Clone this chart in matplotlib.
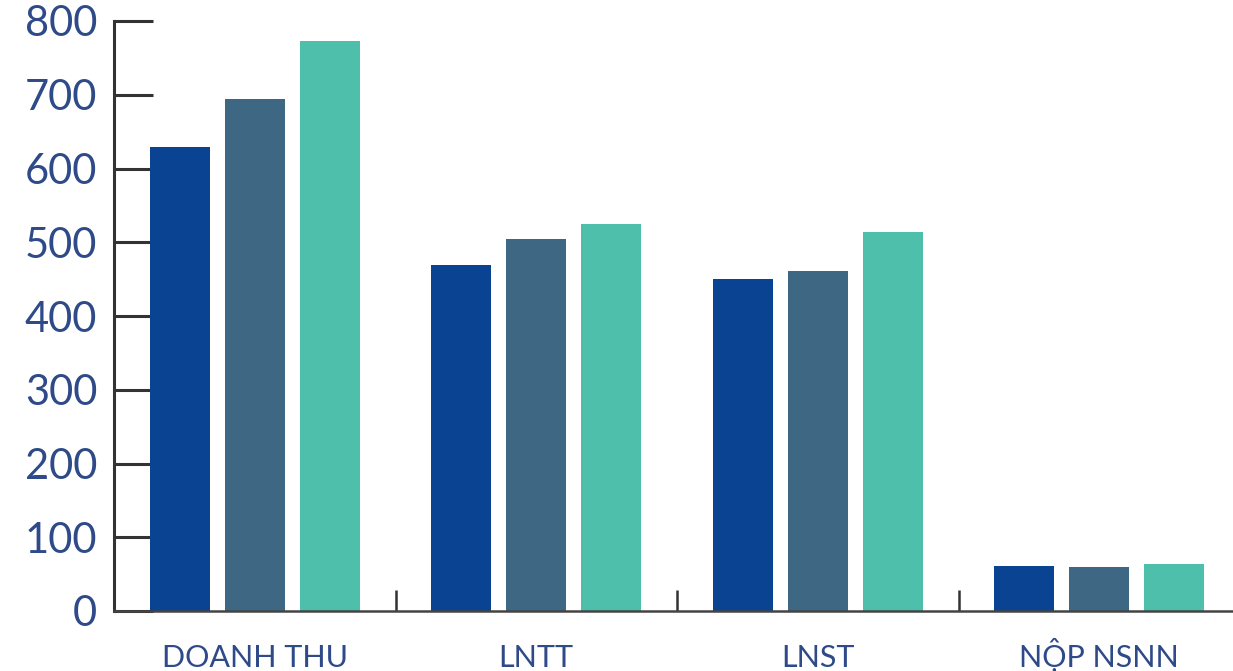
import matplotlib.pyplot as plt
import numpy as np

categories = ['DOANH THU', 'LNTT', 'LNST', 'NỘP NSNN']
series_1 = [629, 469, 450, 61]
series_2 = [694, 504, 461, 59]
series_3 = [773, 525, 514, 64]
colors = ['#0B4393', '#3E6783', '#4DBFAA']
text_color = '#2E4A88'

plt.rcParams['font.family'] = ['Lato', 'DejaVu Sans']

fig = plt.figure(figsize=(12.33, 6.71), dpi=100)
ax = fig.add_axes([114 / 1233, 60 / 671, (1240 - 114) / 1233, 590 / 671])

x = np.arange(len(categories))
w = 0.213
off = 0.266
for i, vals in enumerate([series_1, series_2, series_3]):
    ax.bar(x + (i - 1) * off, vals, width=w, color=colors[i], zorder=2)

ax.set_xlim(-0.5, 3.5)
ax.set_ylim(0, 800)
ax.set_yticks(range(0, 801, 100))
ax.tick_params(axis='y', direction='in', length=28, width=2.2, color='#333333',
               labelsize=30, labelcolor=text_color, pad=12)
ax.set_xticks(x)
ax.set_xticklabels(categories)
ax.tick_params(axis='x', which='major', length=0, labelsize=22, labelcolor=text_color, pad=40)
for lbl in ax.get_xticklabels():
    lbl.set_verticalalignment('baseline')
ax.set_xticks([0.5, 1.5, 2.5], minor=True)
ax.tick_params(axis='x', which='minor', direction='in', length=15, width=1.8, color='#333333')

for s in ['top', 'right']:
    ax.spines[s].set_visible(False)
ax.spines['left'].set_linewidth(2.2)
ax.spines['left'].set_color('#333333')
ax.spines['bottom'].set_linewidth(1.8)
ax.spines['bottom'].set_color('#444444')

fig.savefig('out.png', dpi=100)
